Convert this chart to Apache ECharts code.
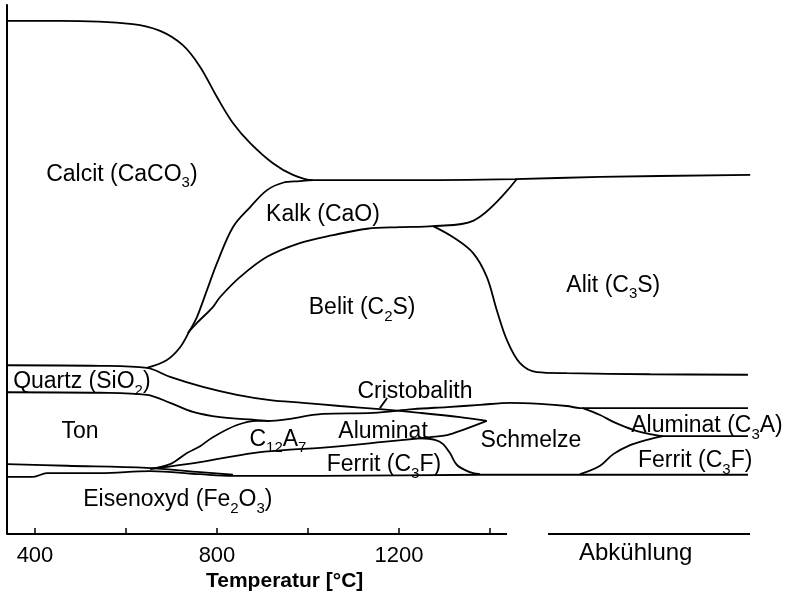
<!DOCTYPE html>
<html>
<head>
<meta charset="utf-8">
<script src="https://cdn.jsdelivr.net/npm/echarts@6/dist/echarts.min.js"></script>
<style>
  html, body { margin: 0; padding: 0; background: #fff; }
  #chart { width: 788px; height: 600px; }
</style>
</head>
<body>
<div id="chart"></div>
<script>
// phase boundaries, x = temperature (cooling part continues the scale), y = share in %
const calcitTop = [[338.5, 97.0], [455, 97.0], [615, 96.4], [675, 95.1], [725, 92.4], [763, 88.3], [800, 82.6],
  [835, 77.7], [873, 73.9], [923, 70.1], [967, 67.9], [1011, 66.9], [1202, 66.9], [1455, 67.1], [1642, 67.5], [1972, 67.9]];
const kalkBottom = [[646, 31.4], [690, 32.9], [719, 35.3], [741, 38.6], [756, 41.0], [778, 46.1], [800, 51.2],
  [835, 58.0], [873, 61.8], [910, 65.0], [945, 66.4], [982, 66.7], [1011, 66.9]];
const belitTop = [[736, 38.0], [756, 39.9], [791, 42.9], [807, 44.8], [851, 48.6], [910, 52.4], [982, 55.0],
  [1055, 56.5], [1130, 57.7], [1202, 58.0], [1275, 58.2], [1363, 59.2], [1459, 67.1]];
const alitBottom = [[1275, 58.2], [1319, 56.1], [1363, 53.1], [1393, 48.6], [1415, 42.3], [1437, 36.7],
  [1466, 32.3], [1503, 30.6], [1569, 30.4], [1752, 30.2], [1967, 30.1]];
const quartzTop = [[338.5, 31.9], [543, 31.8], [646, 31.4], [697, 29.7], [769, 27.8], [844, 26.3], [917, 25.3],
  [989, 24.8], [1070, 24.2], [1158, 23.6], [1246, 22.9], [1334, 22.1], [1393, 21.4]];
const quartzBottom = [[338.5, 26.8], [543, 26.7], [646, 26.3], [697, 24.8], [747, 23.1], [807, 22.1], [879, 21.6],
  [917, 21.4], [1033, 22.7], [1143, 22.9], [1231, 23.6], [1306, 24.0], [1378, 24.4], [1444, 24.8], [1510, 24.6],
  [1569, 24.2], [1598, 23.8], [1752, 23.8], [1967, 23.8]];
const c12a7Top = [[653, 12.3], [697, 13.2], [734, 15.3], [763, 16.6], [791, 18.3], [844, 20.6], [888, 21.4], [917, 21.4]];
const ferritTop = [[653, 12.3], [763, 13.6], [879, 15.3], [954, 15.9], [1027, 16.3], [1165, 17.4], [1246, 18.1],
  [1268, 18.3], [1306, 18.7], [1341, 19.7], [1393, 21.4]];
const ferritMelt = [[1246, 18.1], [1279, 17.8], [1297, 17.0], [1312, 15.3], [1328, 13.0], [1356, 11.7], [1378, 11.3]];
const tonBottom = [[338.5, 13.2], [470, 12.9], [646, 12.5], [763, 11.7], [835, 11.2]];
const oxideTop = [[338.5, 10.8], [396, 10.8], [426, 11.5], [543, 11.5], [653, 11.9], [763, 11.3], [835, 11.0],
  [1027, 11.0], [1378, 11.2], [1967, 11.2]];
const ferritCool = [[1598, 11.3], [1642, 12.9], [1671, 15.1], [1708, 16.8], [1745, 17.8], [1780, 18.5]];
const aluminatCool = [[1604, 23.8], [1642, 22.5], [1671, 21.2], [1715, 19.7], [1752, 18.9], [1780, 18.5], [1967, 18.5]];
const cristoLeader = [[1174, 25.7], [1158, 23.8]];
const axisHeating = [[338.5, 0], [1437.5, 0]];
const axisCooling = [[1527.6, 0], [1971.6, 0]];

const tickValues = [400, 600, 800, 1000, 1200, 1400];
const tickLabels = [400, 800, 1200];

const phaseNames = ['Calcit (CaCO_3)', 'Kalk (CaO)', 'Belit (C_2S)', 'Alit (C_3S)', 'Quartz (SiO_2)', 'Cristobalith',
  'Ton', 'C_12A_7', 'Aluminat', 'Schmelze', 'Aluminat (C_3A)', 'Ferrit (C_3F)', 'Ferrit (C_3F)', 'Eisenoxyd (Fe_2O_3)'];
const phaseX = [591, 1033, 1119, 1671, 503, 1235, 499, 934, 1165, 1490, 1877, 1167, 1851, 714];
const phaseY = [68.4, 60.7, 43.1, 47.4, 29.1, 27.2, 19.7, 18.3, 19.7, 18.1, 20.8, 13.4, 14.2, 6.8];

const boundaries = [calcitTop, kalkBottom, belitTop, alitBottom, quartzTop, quartzBottom, c12a7Top, ferritTop,
  ferritMelt, tonBottom, oxideTop, ferritCool, aluminatCool];
const straight = [cristoLeader, axisHeating, axisCooling];

const FONT = 'Liberation Sans';

function rich(name) {
  return '{t|' + name.replace(/_(\d+)/g, '}{s|$1}{t|') + '}';
}

const dom = echarts.init(document.getElementById('chart'));

const series = [];
boundaries.forEach(function (pts) {
  series.push({
    type: 'line', data: pts, smooth: 0.35, symbol: 'none', silent: true,
    lineStyle: { color: '#000', width: 1.8 }
  });
});
straight.forEach(function (pts) {
  series.push({
    type: 'line', data: pts, symbol: 'none', silent: true,
    lineStyle: { color: '#000', width: 1.8 }
  });
});
series.push({
  type: 'scatter', symbolSize: 0, silent: true,
  itemStyle: { opacity: 1 },
  data: phaseNames.map(function (n, i) { return { name: n, value: [phaseX[i], phaseY[i]] }; }),
  label: {
    show: true, position: 'inside', color: '#000', textBorderWidth: 0,
    formatter: function (p) { return rich(p.name); },
    rich: {
      t: { fontFamily: FONT, fontSize: 23, color: '#000', textBorderWidth: 0, verticalAlign: 'bottom', lineHeight: 27 },
      s: { fontFamily: FONT, fontSize: 15, color: '#000', textBorderWidth: 0, verticalAlign: 'bottom', lineHeight: 27, padding: [0, 0, -5, 0] }
    }
  }
});

const option = {
  animation: false,
  backgroundColor: '#fff',
  grid: { left: 7, right: 38, top: 5, bottom: 66 },
  xAxis: {
    type: 'value', min: 338.5, max: 1971.5,
    axisLine: { show: false },
    axisTick: { show: true, inside: true, length: 6, customValues: tickValues, lineStyle: { color: '#000', width: 1.5 } },
    axisLabel: {
      customValues: tickLabels, color: '#000', fontFamily: FONT, fontSize: 22, margin: 11,
      formatter: function (v) { return String(v); }
    },
    splitLine: { show: false }
  },
  yAxis: {
    type: 'value', min: 0, max: 100,
    axisLine: { show: true, lineStyle: { color: '#000', width: 2 } },
    axisTick: { show: false }, axisLabel: { show: false }, splitLine: { show: false }
  },
  graphic: [
    { type: 'text', left: 206, top: 571, style: { text: 'Temperatur [°C]', font: 'bold 21px "Liberation Sans"', fill: '#000' } },
    { type: 'text', left: 579, top: 541, style: { text: 'Abkühlung', font: '24px "Liberation Sans"', fill: '#000' } }
  ],
  series: series
};
dom.setOption(option);
</script>
</body>
</html>
